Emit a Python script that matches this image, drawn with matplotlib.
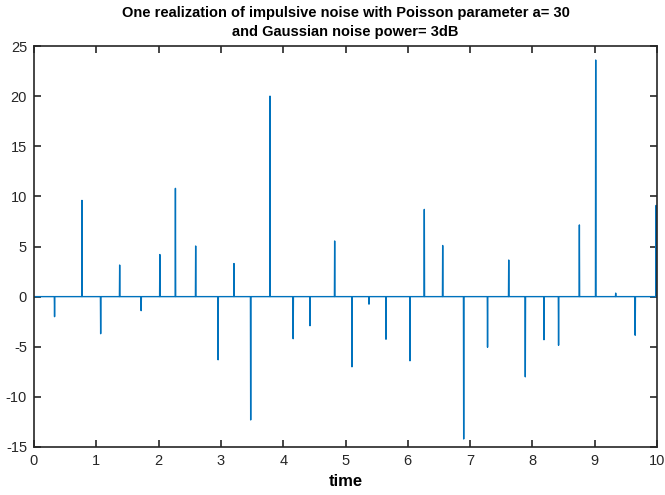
import numpy as np
import matplotlib.pyplot as plt

# impulse times and amplitudes
times = [0.33, 0.77, 1.07, 1.375, 1.72, 2.02, 2.27, 2.595, 2.955, 3.21,
         3.478, 3.788, 4.16, 4.43, 4.826, 5.104, 5.377, 5.65, 6.035, 6.265,
         6.56, 6.897, 7.28, 7.62, 7.886, 8.186, 8.42, 8.754, 9.016, 9.337,
         9.65, 9.986]
amps = [-2.0, 9.6, -3.7, 3.15, -1.4, 4.2, 10.8, 5.05, -6.3, 3.3,
        -12.3, 20.0, -4.2, -2.9, 5.55, -7.0, -0.75, -4.25, -6.4, 8.7,
        5.1, -14.2, -5.05, 3.65, -8.0, -4.3, -4.85, 7.15, 23.6, 0.35,
        -3.85, 9.1]

plt.rcParams['font.family'] = ['Liberation Sans', 'DejaVu Sans']
plt.rcParams['axes.unicode_minus'] = False

# sampled signal: zero everywhere except one sample per impulse
dt = 0.004
t = [0.0]
y = [0.0]
for ti, ai in zip(times, amps):
    t += [ti - dt, ti, ti + dt]
    y += [0.0, ai, 0.0]
t.append(10.0)
y.append(0.0)
t = np.array(t)
y = np.array(y)

fig = plt.figure(figsize=(6.65, 4.95), dpi=100)
ax = fig.add_axes([34 / 665, 48 / 495, 623 / 665, 401 / 495])

ax.plot(t, y, color="#0072BD", linewidth=1.0)

ax.set_xlim(0, 10)
ax.set_ylim(-15, 25)
ax.set_xticks(range(0, 11))
ax.set_yticks(range(-15, 26, 5))

for s in ax.spines.values():
    s.set_color("#262626")
    s.set_linewidth(1.2)
ax.tick_params(direction="in", length=5, width=1.2, top=True, right=True,
               labelsize=10.5, colors="#262626", pad=5)

ax.set_xlabel("time", fontsize=12, fontweight="bold", labelpad=4)
ax.set_title("One realization of impulsive noise with Poisson parameter a= 30\n"
             "and Gaussian noise power= 3dB",
             fontsize=10.5, fontweight="bold", pad=7, linespacing=1.5)

fig.savefig("out.png", dpi=100)
